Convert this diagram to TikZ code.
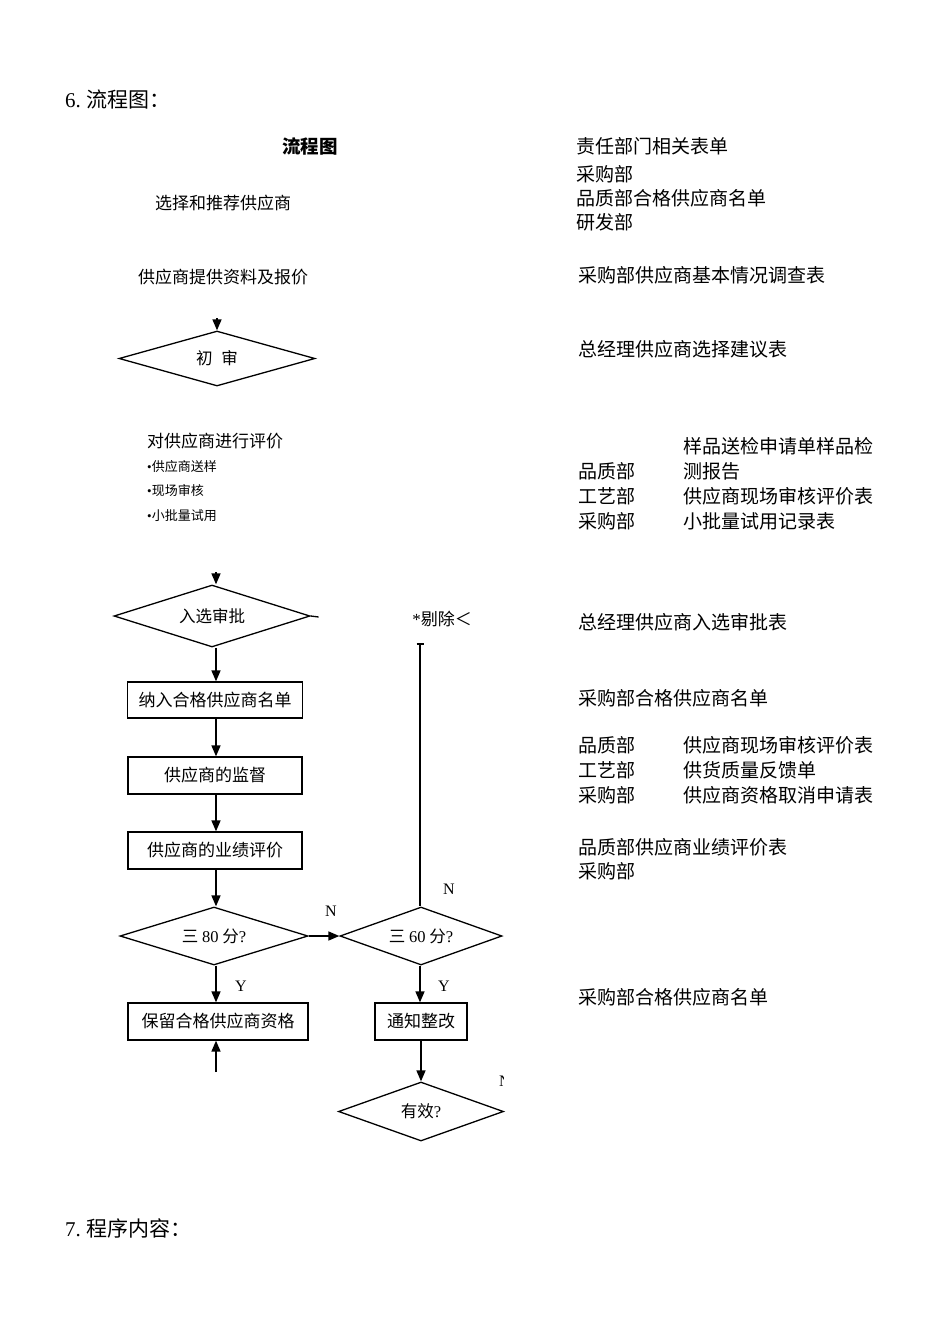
\documentclass[tikz,border=0pt]{standalone}
\usepackage{fontspec}
\setmainfont{Liberation Serif}
\newfontfamily\cjk{Noto Sans CJK SC}
\usetikzlibrary{shapes.geometric,arrows.meta}
\tikzset{
  rt/.style={anchor=west, inner sep=0pt, font=\fontsize{19}{19}\selectfont\cjk},
  lt/.style={anchor=west, inner sep=0pt, font=\fontsize{17}{17}\selectfont\cjk},
  bul/.style={anchor=west, inner sep=0pt, font=\fontsize{13}{13}\selectfont\cjk},
  hd/.style={anchor=west, inner sep=0pt, font=\fontsize{21}{21}\selectfont},
  flowbox/.style={draw, line width=1.3pt, inner sep=0pt, font=\fontsize{17}{17}\selectfont\cjk},
  dia/.style={diamond, aspect=3, draw, line width=1.3pt, inner sep=0pt, font=\fontsize{16.5}{17}\selectfont\cjk},
  arr/.style={line width=1.6pt, -{Triangle[width=9pt,length=11pt]}},
  yn/.style={inner sep=0pt, font=\fontsize{16}{16}\selectfont},
}
\begin{document}
\begin{tikzpicture}[x=1pt,y=-1pt]
\useasboundingbox (0,0) rectangle (950,1344);
\fill[white] (0,0) rectangle (950,1344);

% headings
\node[hd] (h6) at (65,100) {6.\hspace{6pt}{\cjk 流程图：}};
\node[hd] (h7) at (65,1228) {7.\hspace{6pt}{\cjk 程序内容：}};

% left column labels
\node[inner sep=0pt, font=\fontsize{18.5}{19}\selectfont\cjk\bfseries] (title) at (310,146) {流程图};
\node[lt] (s1) at (155,203) {选择和推荐供应商};
\node[lt] (s2) at (138,277) {供应商提供资料及报价};
\node[lt] (s3) at (147,441) {对供应商进行评价};
\node[bul] (s3a) at (147,467) {{\rmfamily\char"2022}供应商送样};
\node[bul] (s3b) at (147,491) {{\rmfamily\char"2022}现场审核};
\node[bul] (s3c) at (147,516) {{\rmfamily\char"2022}小批量试用};

% flow shapes
\node[dia, minimum width=196pt, minimum height=55pt] (d1) at (217,358.5) {初\hspace{9pt}审};
\coordinate (in1) at (217,318);
\draw[arr] (in1) -- (d1.north);

\node[dia, minimum width=196pt, minimum height=62pt] (d2) at (212,616) {入选审批};
\coordinate (in2) at (216,572);
\draw[arr] (in2) -- (in2 |- d2.north);
\draw[line width=1.3pt] (d2.east) -- ++(8,1);

\node[flowbox, minimum width=175pt, minimum height=36pt] (b1) at (215,700) {纳入合格供应商名单};
\node[flowbox, minimum width=174pt, minimum height=37pt] (b2) at (215,775.5) {供应商的监督};
\node[flowbox, minimum width=174pt, minimum height=37pt] (b3) at (215,850.5) {供应商的业绩评价};

\draw[arr] (d2.south -| in2) -- (in2 |- b1.north);
\draw[arr] (in2 |- b1.south) -- (in2 |- b2.north);
\draw[arr] (in2 |- b2.south) -- (in2 |- b3.north);

\node[dia, minimum width=188pt, minimum height=58pt] (d80) at (214,936) {三 {\rmfamily 80} 分{\rmfamily ?}};
\draw[arr] (in2 |- b3.south) -- (in2 |- d80.north);

\node[dia, minimum width=162pt, minimum height=58pt] (d60) at (421,936) {三 {\rmfamily 60} 分{\rmfamily ?}};
\draw[arr] (d80.east) -- (d60.west);
\node[yn] (n1) at (331,911) {N};

\coordinate (top60) at (420,643);
\draw[line width=1.6pt, {Bar[width=7pt]}-] (top60) -- (top60 |- d60.north);
\node[yn] (n2) at (449,889) {N};
\node[inner sep=0pt, font=\fontsize{17}{17}\selectfont] (rej) at (442,619) {*{\cjk 剔除＜}};

\node[flowbox, minimum width=180pt, minimum height=37pt] (keep) at (218,1021.5) {保留合格供应商资格};
\draw[arr] (in2 |- d80.south) -- (in2 |- keep.north);
\node[yn] (y1) at (241,986) {Y};
\coordinate (in3) at (216,1072);
\draw[arr] (in3) -- (in3 |- keep.south);

\node[flowbox, minimum width=92pt, minimum height=37pt] (fix) at (421,1021.5) {通知整改};
\draw[arr] (top60 |- d60.south) -- (top60 |- fix.north);
\node[yn] (y2) at (444,986) {Y};

\node[dia, minimum width=165pt, minimum height=59pt] (valid) at (421,1111.5) {有效{\rmfamily ?}};
\draw[arr] (fix.south) -- (valid.north);
\begin{scope}
  \clip (495,1065) rectangle (503.5,1095);
  \node[yn] (n3) at (505,1081) {N};
\end{scope}

% right column
\node[rt] (r1) at (576,146) {责任部门相关表单};
\node[rt] (r2) at (576,174) {采购部};
\node[rt] (r3) at (576,198) {品质部合格供应商名单};
\node[rt] (r4) at (576,222) {研发部};
\node[rt] (r5) at (578,275) {采购部供应商基本情况调查表};
\node[rt] (r6) at (578,349) {总经理供应商选择建议表};
\node[rt] (r7) at (683,446) {样品送检申请单样品检};
\node[rt] (r8a) at (578,471) {品质部};
\node[rt] (r8b) at (683,471) {测报告};
\node[rt] (r9a) at (578,496) {工艺部};
\node[rt] (r9b) at (683,496) {供应商现场审核评价表};
\node[rt] (r10a) at (578,521) {采购部};
\node[rt] (r10b) at (683,521) {小批量试用记录表};
\node[rt] (r11) at (578,622) {总经理供应商入选审批表};
\node[rt] (r12) at (578,698) {采购部合格供应商名单};
\node[rt] (r13a) at (578,745) {品质部};
\node[rt] (r13b) at (683,745) {供应商现场审核评价表};
\node[rt] (r14a) at (578,770) {工艺部};
\node[rt] (r14b) at (683,770) {供货质量反馈单};
\node[rt] (r15a) at (578,795) {采购部};
\node[rt] (r15b) at (683,795) {供应商资格取消申请表};
\node[rt] (r16) at (578,847) {品质部供应商业绩评价表};
\node[rt] (r17) at (578,871) {采购部};
\node[rt] (r18) at (578,997) {采购部合格供应商名单};
\end{tikzpicture}
\end{document}
